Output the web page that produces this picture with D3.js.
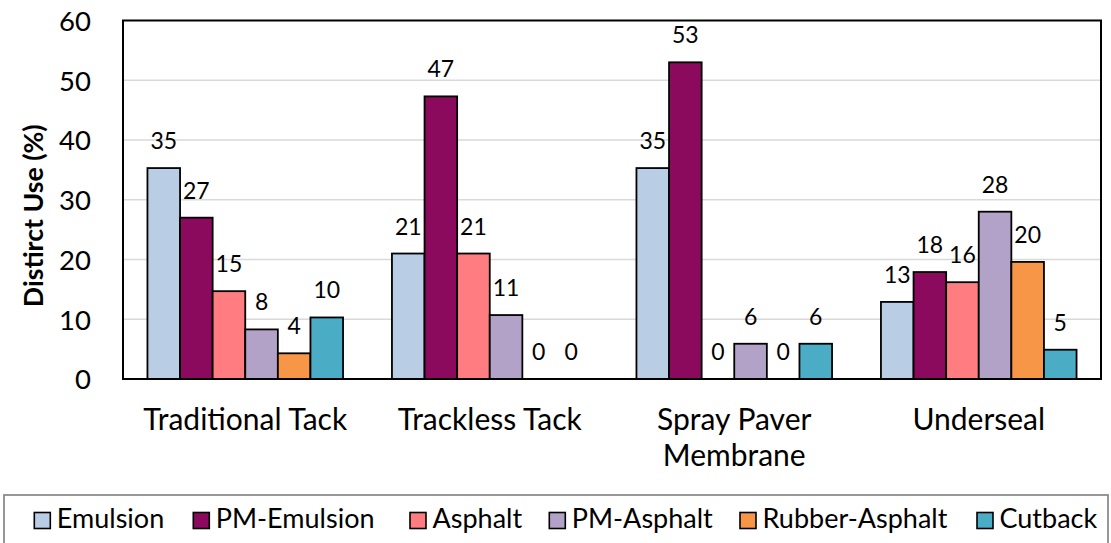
<!DOCTYPE html>
<html><head><meta charset="utf-8">
<script src="https://cdn.jsdelivr.net/npm/d3@7"></script>
<style>html,body{margin:0;padding:0;background:#fff;}svg{display:block;}</style>
</head><body>
<script>
// ---- data ----
const categories = ["Traditional Tack", "Trackless Tack", "Spray Paver Membrane", "Underseal"];
const seriesNames = ["Emulsion", "PM-Emulsion", "Asphalt", "PM-Asphalt", "Rubber-Asphalt", "Cutback"];
const emulsion      = [35.3, 21.0, 35.3, 12.9];
const pmEmulsion    = [27.0, 47.3, 53.0, 17.9];
const asphalt       = [14.7, 21.0, 0.0, 16.2];
const pmAsphalt     = [8.3, 10.7, 5.9, 28.0];
const rubberAsphalt = [4.3, 0.0, 0.0, 19.6];
const cutback       = [10.3, 0.0, 5.9, 4.9];
const yTicks = [0, 10, 20, 30, 40, 50, 60];
const yTitle = "Distirct Use (%)";
const colors = ["#b9cde5", "#8b0a5e", "#ff7c80", "#b3a2c7", "#f79646", "#4bacc6"];

const seriesValues = [emulsion, pmEmulsion, asphalt, pmAsphalt, rubberAsphalt, cutback];

// ---- layout ----
const W = 1111, H = 543;
const plot = {left: 123, right: 1101, top: 20.5, bottom: 379};
const FONT = "Lato, 'Noto Sans', sans-serif";

const svg = d3.select("body").append("svg").attr("width", W).attr("height", H)
  .style("font-family", FONT);

const x0 = d3.scaleBand().domain(categories).range([plot.left, plot.right]).paddingInner(0).paddingOuter(0);
const groupPad = x0.bandwidth() * 0.1;
const x1 = d3.scaleBand().domain(seriesNames).range([groupPad, x0.bandwidth() - groupPad]).padding(0);
const y = d3.scaleLinear().domain([0, 60]).range([plot.bottom, plot.top]);

// gridlines
svg.append("g").selectAll("line").data(yTicks.filter(t => t > 0 && t < 60)).join("line")
  .attr("x1", plot.left).attr("x2", plot.right)
  .attr("y1", d => y(d)).attr("y2", d => y(d))
  .attr("stroke", "#d9d9d9").attr("stroke-width", 1.5);

// y tick labels via axis
const yAxis = svg.append("g").attr("transform", `translate(${plot.left},0)`)
  .call(d3.axisLeft(y).tickValues(yTicks).tickSize(0).tickPadding(32));
yAxis.select(".domain").remove();
yAxis.selectAll("text").attr("font-size", 27.5).attr("font-family", FONT).attr("fill", "#000")
  .attr("dy", "0.36em");

// y title
svg.append("text")
  .attr("transform", `translate(43,${(plot.top + plot.bottom) / 2 + 16}) rotate(-90)`)
  .attr("text-anchor", "middle").attr("font-size", 26.7).attr("font-weight", "bold").attr("fill", "#000")
  .text(yTitle);

// bars
const rows = [];
categories.forEach((c, ci) => seriesNames.forEach((s, si) => rows.push({c, s, si, v: seriesValues[si][ci]})));

svg.append("g").selectAll("rect").data(rows.filter(d => d.v > 0)).join("rect")
  .attr("x", d => x0(d.c) + x1(d.s))
  .attr("y", d => y(d.v))
  .attr("width", x1.bandwidth())
  .attr("height", d => y(0) - y(d.v))
  .attr("fill", d => colors[d.si])
  .attr("stroke", "#000").attr("stroke-width", 1.8);

// data labels
svg.append("g").selectAll("text").data(rows).join("text")
  .attr("x", d => x0(d.c) + x1(d.s) + x1.bandwidth() / 2)
  .attr("y", d => y(d.v) - 19)
  .attr("text-anchor", "middle").attr("font-size", 23).attr("fill", "#000")
  .text(d => d3.format(".0f")(d.v));

// plot frame
svg.append("rect").attr("x", plot.left).attr("y", plot.top)
  .attr("width", plot.right - plot.left).attr("height", plot.bottom - plot.top)
  .attr("fill", "none").attr("stroke", "#000").attr("stroke-width", 2);

// category labels with wrapping
const catG = svg.append("g");
categories.forEach(c => {
  const cx = x0(c) + x0.bandwidth() / 2;
  const t = catG.append("text").attr("x", cx).attr("y", 429.5)
    .attr("text-anchor", "middle").attr("font-size", 30).attr("fill", "#000");
  const words = c.split(" ");
  let line = [];
  let ts = t.append("tspan").attr("x", cx).attr("dy", 0);
  words.forEach(w => {
    line.push(w);
    ts.text(line.join(" "));
    if (ts.node().getComputedTextLength() > x0.bandwidth() * 0.92 && line.length > 1) {
      line.pop();
      ts.text(line.join(" "));
      line = [w];
      ts = t.append("tspan").attr("x", cx).attr("dy", 36.5).text(w);
    }
  });
});

// legend
svg.append("rect").attr("x", 4).attr("y", 495).attr("width", 1104).attr("height", 60)
  .attr("fill", "none").attr("stroke", "#8c8c8c").attr("stroke-width", 1.8);
const legendX = [34.3, 193.3, 410, 549.3, 740, 977];
const leg = svg.append("g").selectAll("g").data(seriesNames).join("g")
  .attr("transform", (d, i) => `translate(${legendX[i]},512.5)`);
leg.append("rect").attr("width", 16).attr("height", 16)
  .attr("fill", (d, i) => colors[i]).attr("stroke", "#000").attr("stroke-width", 1.6);
leg.append("text").attr("x", 22.5).attr("y", 15.5).attr("font-size", 27).attr("fill", "#000")
  .text(d => d);
</script>
</body></html>
